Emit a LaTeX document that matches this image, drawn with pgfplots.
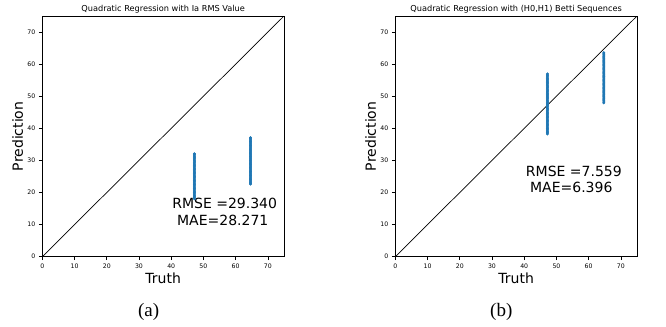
\documentclass[border=0pt]{standalone}
\usepackage{pgfplots}
\pgfplotsset{compat=1.18}
\usepackage{fontspec}
\setmainfont{DejaVu Sans}
\newfontfamily\capfont{Liberation Serif}
\definecolor{mplblue}{HTML}{1F77B4}
\pgfplotsset{
  every axis title shift=0pt,
  myaxis/.style={
    scale only axis, width=241.7bp, height=240.7bp,
    xmin=0, xmax=75, ymin=0, ymax=75,
    xtick={0,10,...,70}, ytick={0,10,...,70},
    tick align=outside, major tick length=3.5bp,
    xtick pos=bottom, ytick pos=left,
    axis line style={line width=0.8bp},
    every tick/.style={line width=0.6bp, black},
    tick label style={font=\fontsize{6.2bp}{7bp}\selectfont},
    /pgf/number format/assume math mode=true,
    xlabel={Truth}, ylabel={Prediction},
    label style={font=\fontsize{14bp}{16bp}\selectfont},
    xlabel style={at={(axis description cs:0.5,-0.088)}, anchor=center},
    ylabel style={at={(axis description cs:-0.102,0.5)}, anchor=center},
    title style={font=\fontsize{8.2bp}{9bp}\selectfont, at={(axis description cs:0.5,1.03)}, anchor=center, yshift=0pt},
    clip=true,
  },
  pts/.style={only marks, mplblue, mark=*, mark size=1.15bp, mark options={draw=none, fill=mplblue}},
}
\begin{document}
\begin{tikzpicture}[x=1bp,y=1bp]
\useasboundingbox (0,0) rectangle (666,326);
\begin{axis}[myaxis, at={(42.3bp,69.3bp)}, anchor=south west,
  title={Quadratic Regression with Ia RMS Value}]
\addplot[black, line width=0.7bp, no marks] coordinates {(0,0) (75,75)};
\addplot[pts] coordinates {
(47.2,18.0)(47.2,18.25)(47.2,18.5)(47.2,18.75)(47.2,19.0)(47.2,19.25)(47.2,19.5)(47.2,19.75)(47.2,20.0)(47.2,20.25)(47.2,20.5)(47.2,20.75)(47.2,21.0)(47.2,21.25)(47.2,21.5)(47.2,21.75)
(47.2,22.0)(47.2,22.25)(47.2,22.5)(47.2,22.75)(47.2,23.0)(47.2,23.25)(47.2,23.5)(47.2,23.75)(47.2,24.0)(47.2,24.25)(47.2,24.5)(47.2,24.75)(47.2,25.0)(47.2,25.25)(47.2,25.5)(47.2,25.75)
(47.2,26.0)(47.2,26.25)(47.2,26.5)(47.2,26.75)(47.2,27.0)(47.2,27.25)(47.2,27.5)(47.2,27.75)(47.2,28.0)(47.2,28.25)(47.2,28.5)(47.2,28.75)(47.2,29.0)(47.2,29.25)(47.2,29.5)(47.2,29.75)
(47.2,30.0)(47.2,30.25)(47.2,30.5)(47.2,30.75)(47.2,31.0)(47.2,31.25)(47.2,31.5)(47.2,31.75)(47.2,32.0)(47.2,32.1)};
\addplot[pts] coordinates {
(64.6,22.6)(64.6,22.85)(64.6,23.1)(64.6,23.35)(64.6,23.6)(64.6,23.85)(64.6,24.1)(64.6,24.35)(64.6,24.6)(64.6,24.85)(64.6,25.1)(64.6,25.35)(64.6,25.6)(64.6,25.85)(64.6,26.1)(64.6,26.35)
(64.6,26.6)(64.6,26.85)(64.6,27.1)(64.6,27.35)(64.6,27.6)(64.6,27.85)(64.6,28.1)(64.6,28.35)(64.6,28.6)(64.6,28.85)(64.6,29.1)(64.6,29.35)(64.6,29.6)(64.6,29.85)(64.6,30.1)(64.6,30.35)
(64.6,30.6)(64.6,30.85)(64.6,31.1)(64.6,31.35)(64.6,31.6)(64.6,31.85)(64.6,32.1)(64.6,32.35)(64.6,32.6)(64.6,32.85)(64.6,33.1)(64.6,33.35)(64.6,33.6)(64.6,33.85)(64.6,34.1)(64.6,34.35)
(64.6,34.6)(64.6,34.85)(64.6,35.1)(64.6,35.35)(64.6,35.6)(64.6,35.85)(64.6,36.1)(64.6,36.35)(64.6,36.6)(64.6,36.85)(64.6,37.1)};
\node[font=\fontsize{14bp}{16bp}\selectfont] at (axis cs:56.6,16.7) {RMSE =29.340};
\node[font=\fontsize{14bp}{16bp}\selectfont] at (axis cs:56.0,11.3) {MAE=28.271};
\end{axis}
\begin{axis}[myaxis, at={(395.3bp,69.3bp)}, anchor=south west,
  title={Quadratic Regression with (H0,H1) Betti Sequences}]
\addplot[black, line width=0.7bp, no marks] coordinates {(0,0) (75,75)};
\addplot[pts] coordinates {
(47.2,38.2)(47.2,38.45)(47.2,38.7)(47.2,38.95)(47.2,39.2)(47.2,39.45)(47.2,39.7)(47.2,39.95)(47.2,40.2)(47.2,40.45)(47.2,40.7)(47.2,40.95)(47.2,41.2)(47.2,41.45)(47.2,41.7)(47.2,41.95)
(47.2,42.2)(47.2,42.45)(47.2,42.7)(47.2,42.95)(47.2,43.2)(47.2,43.45)(47.2,43.7)(47.2,43.95)(47.2,44.2)(47.2,44.45)(47.2,44.7)(47.2,44.95)(47.2,45.2)(47.2,45.45)(47.2,45.7)(47.2,45.95)
(47.2,46.2)(47.2,46.45)(47.2,46.7)(47.2,46.95)(47.2,47.2)(47.2,47.45)(47.2,47.7)(47.2,47.95)(47.2,48.2)(47.2,48.45)(47.2,48.7)(47.2,48.95)(47.2,49.2)(47.2,49.45)(47.2,49.7)(47.2,49.95)
(47.2,50.2)(47.2,50.45)(47.2,50.7)(47.2,50.95)(47.2,51.2)(47.2,51.45)(47.2,51.7)(47.2,51.95)(47.2,52.2)(47.2,52.45)(47.2,52.7)(47.2,52.95)(47.2,53.2)(47.2,53.45)(47.2,53.7)(47.2,53.95)
(47.2,54.2)(47.2,54.45)(47.2,54.7)(47.2,54.95)(47.2,55.2)(47.2,55.45)(47.2,55.7)(47.2,55.95)(47.2,56.2)(47.2,56.45)(47.2,56.7)(47.2,57.0)};
\addplot[pts] coordinates {
(64.7,47.9)(64.7,48.15)(64.7,48.4)(64.7,48.65)(64.7,48.9)(64.7,49.15)(64.7,49.4)(64.7,49.65)(64.7,49.9)(64.7,50.15)(64.7,50.4)(64.7,50.65)(64.7,50.9)(64.7,51.15)(64.7,51.4)(64.7,51.65)
(64.7,51.9)(64.7,52.15)(64.7,52.4)(64.7,52.65)(64.7,52.9)(64.7,53.15)(64.7,53.4)(64.7,53.65)(64.7,53.9)(64.7,54.15)(64.7,54.4)(64.7,54.65)(64.7,54.9)(64.7,55.15)(64.7,55.4)(64.7,55.65)
(64.7,55.9)(64.7,56.15)(64.7,56.4)(64.7,56.65)(64.7,56.9)(64.7,57.15)(64.7,57.4)(64.7,57.65)(64.7,57.9)(64.7,58.15)(64.7,58.4)(64.7,58.65)(64.7,58.9)(64.7,59.15)(64.7,59.4)(64.7,59.65)
(64.7,59.9)(64.7,60.15)(64.7,60.4)(64.7,60.65)(64.7,60.9)(64.7,61.15)(64.7,61.4)(64.7,61.65)(64.7,61.9)(64.7,62.15)(64.7,62.4)(64.7,62.65)(64.7,62.9)(64.7,63.15)(64.7,63.4)(64.7,63.6)};
\node[font=\fontsize{14bp}{16bp}\selectfont] at (axis cs:55.4,26.5) {RMSE =7.559};
\node[font=\fontsize{14bp}{16bp}\selectfont] at (axis cs:54.6,21.5) {MAE=6.396};
\end{axis}
\node[font=\capfont\fontsize{19bp}{21bp}\selectfont] at (148.7,14.3) {(a)};
\node[font=\capfont\fontsize{19bp}{21bp}\selectfont] at (501.3,14.3) {(b)};
\end{tikzpicture}
\end{document}
